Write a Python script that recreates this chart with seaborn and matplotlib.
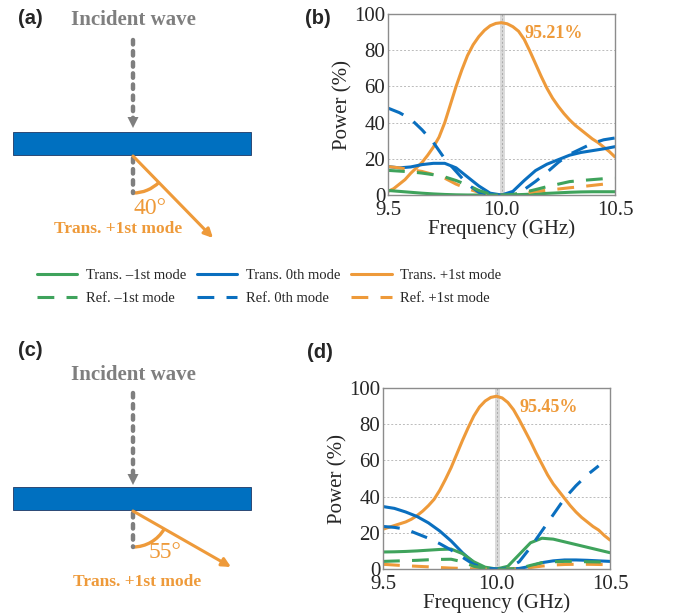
import numpy as np
import pandas as pd
import matplotlib.pyplot as plt
import seaborn as sns
from matplotlib.patches import Arc, Rectangle

##------------------------------ datos ------------------------------
freq = [9.50, 9.55, 9.60, 9.65, 9.70, 9.75, 9.80, 9.85, 9.90, 9.95, 10.00,
        10.05, 10.10, 10.15, 10.20, 10.25, 10.30, 10.35, 10.40, 10.45, 10.50]
# rejilla mas fina para el pico naranja
freq_fine = [9.500, 9.525, 9.550, 9.575, 9.600, 9.625, 9.650, 9.675, 9.700, 9.725,
             9.750, 9.775, 9.800, 9.825, 9.850, 9.875, 9.900, 9.925, 9.950, 9.975,
             10.000, 10.025, 10.050, 10.075, 10.100, 10.125, 10.150, 10.175, 10.200,
             10.225, 10.250, 10.275, 10.300, 10.325, 10.350, 10.375, 10.400, 10.425,
             10.450, 10.475, 10.500]

# panel (b), 40 grados
b_trans_m1 = [2.5, 2.0, 1.5, 1.0, 0.6, 0.3, 0.1, 0.0, 0.0, 0.0, 0.0,
              0.1, 0.3, 0.6, 0.9, 1.2, 1.5, 1.7, 1.8, 1.8, 1.8]
b_trans_0 = [15.7, 15.0, 15.5, 16.8, 17.5, 17.5, 15.0, 10.0, 5.0, 1.0, 0.0,
             2.0, 8.0, 13.5, 17.0, 19.5, 22.0, 23.5, 24.5, 25.5, 26.7]
b_trans_p1 = [2.0, 3.5, 6.0, 8.5, 12.0, 15.0, 18.0, 22.0, 26.5, 32.0,
              40.0, 50.0, 60.0, 69.0, 77.0, 83.0, 87.5, 91.0, 93.5, 94.8,
              95.21, 94.6, 93.0, 90.5, 86.0, 79.5, 72.5, 65.5, 59.0,
              53.5, 49.0, 45.0, 41.5, 38.5, 36.0, 33.5, 31.0, 29.0,
              26.5, 24.0, 21.0]
b_ref_m1 = [13.6, 13.2, 12.8, 12.1, 11.2, 10.0, 8.0, 5.5, 2.5, 0.5, 0.0,
            0.3, 1.5, 3.0, 4.6, 6.0, 7.4, 8.0, 8.5, 9.0, 9.2]
b_ref_0 = [48.0, 45.5, 42.0, 36.0, 29.0, 20.0, 13.0, 6.0, 1.5, 0.3, 0.0,
           0.5, 3.0, 7.5, 12.5, 18.0, 22.5, 25.5, 28.5, 30.5, 31.5]
b_ref_p1 = [15.7, 15.0, 14.0, 13.0, 11.3, 9.3, 6.0, 3.5, 1.5, 0.3, 0.0,
            0.2, 1.0, 2.0, 2.6, 3.3, 4.0, 4.6, 5.3, 6.0, 6.8]

# panel (d), 55 grados
d_trans_m1 = [9.4, 9.5, 9.7, 10.0, 10.4, 10.8, 11.0, 8.5, 4.0, 1.0, 0.0,
              1.5, 8.0, 14.5, 17.0, 16.5, 15.0, 13.5, 12.0, 10.5, 9.0]
d_trans_0 = [34.5, 33.5, 31.5, 29.0, 25.5, 21.0, 15.5, 9.0, 3.5, 0.5, 0.0,
             0.0, 0.3, 1.5, 3.5, 4.5, 5.0, 5.0, 4.8, 4.5, 4.2]
d_trans_p1 = [22.0, 23.0, 24.0, 25.0, 26.0, 27.5, 29.5, 32.0, 35.0, 38.5,
              43.5, 49.5, 56.0, 63.5, 71.0, 78.0, 84.5, 89.5, 92.8, 94.8,
              95.45, 94.5, 92.0, 88.0, 82.5, 76.5, 70.5, 64.0, 58.0,
              52.0, 47.0, 43.0, 39.0, 35.0, 31.5, 28.5, 26.0, 23.5,
              21.5, 18.5, 16.0]
d_ref_m1 = [4.2, 4.4, 4.6, 4.8, 5.1, 5.3, 5.4, 4.0, 1.5, 0.3, 0.0,
            0.0, 0.3, 2.0, 3.5, 4.0, 4.2, 4.2, 4.0, 3.9, 3.7]
d_ref_0 = [23.5, 23.0, 22.0, 19.5, 17.0, 14.0, 10.5, 6.5, 2.5, 0.5, 0.0,
           0.5, 4.0, 12.0, 21.0, 30.0, 39.0, 46.0, 52.0, 57.0, np.nan]
d_ref_p1 = [2.6, 2.2, 1.8, 1.5, 1.2, 0.8, 0.5, 0.3, 0.1, 0.0, 0.0,
            0.0, 0.2, 0.8, 1.6, 2.2, 2.5, 2.6, 2.6, 2.5, 2.4]

peak_b = "95.21%"
peak_d = "95.45%"
angle_labels = ["40°", "55°"]

##------------------------------ estilo ------------------------------
sns.set_style("white")
plt.rcParams['font.family'] = ['Liberation Serif', 'DejaVu Serif']

GREEN = '#3FA35C'
BLUE = '#0A6FBF'
ORANGE = '#EE9A3A'
GREY = '#7F7F7F'
DASH = (0, (5.5, 4))

fig = plt.figure(figsize=(6.78, 6.16), dpi=100)

##------------------------------ esquemas (a) y (c) ------------------------------
ax_s = fig.add_axes([0, 0, 1, 1])
ax_s.set_xlim(0, 678)
ax_s.set_ylim(616, 0)
ax_s.axis('off')


def esquema(ax, y_text, y_top, y_tip, y_rect, y_end, tip, ang_deg, ang_pos, lab_pos, ang_txt):
    x0 = 133
    ax.text(x0, y_text, "Incident wave", color=GREY, fontsize=15, fontweight='bold',
            ha='center', va='center')
    ax.plot([x0, x0], [y_top, y_tip - 9], color=GREY, lw=3.2,
            linestyle=(0, (1.0, 1.5)), dash_capstyle='round')
    ax.fill([x0 - 5.5, x0 + 5.5, x0], [y_tip - 11, y_tip - 11, y_tip], color=GREY, lw=0)
    ax.add_patch(Rectangle((13, y_rect), 238, 23, facecolor='#0070C0',
                           edgecolor='#1F3864', lw=0.6))
    y0 = y_rect + 24
    ax.plot([x0, x0], [y0 + 2, y_end], color=GREY, lw=3.2,
            linestyle=(0, (1.0, 1.5)), dash_capstyle='round')
    ax.annotate('', xy=tip, xytext=(x0, y0),
                arrowprops=dict(arrowstyle='-|>', color=ORANGE, lw=2.2,
                                mutation_scale=13, shrinkA=0, shrinkB=0))
    r = y_end - y0
    ax.add_patch(Arc((x0, y0), 2 * r, 2 * r, theta1=90 - ang_deg, theta2=90,
                     color=ORANGE, lw=2.4))
    ax.text(ang_pos[0], ang_pos[1], ang_txt, color=ORANGE, fontsize=17,
            ha='center', va='center')
    ax.text(lab_pos[0], lab_pos[1], "Trans. +1st mode", color=ORANGE, fontsize=12.5,
            fontweight='bold', ha='center', va='center')


esquema(ax_s, 20, 40, 128, 132, 193, (213, 238), 45, (150, 208), (118, 229), angle_labels[0])
esquema(ax_s, 375, 393, 485, 487, 547, (231, 567), 60, (165, 552), (137, 582), angle_labels[1])

for lab, (x, y) in zip(["(a)", "(b)", "(c)", "(d)"],
                       [(30, 18), (318, 18), (30, 350), (320, 352)]):
    fig.text(x / 678, 1 - y / 616, lab, fontsize=14.5, fontweight='bold',
             family=['Liberation Sans', 'DejaVu Sans'], ha='center', va='center')

##------------------------------ curvas (b) y (d) ------------------------------
series_names = ["Trans. \u20131st mode", "Ref. \u20131st mode",
                "Trans. 0th mode", "Ref. 0th mode",
                "Trans. +1st mode", "Ref. +1st mode"]
colors = [GREEN, GREEN, BLUE, BLUE, ORANGE, ORANGE]
styles = ['-', DASH, '-', DASH, '-', DASH]
order = [4, 2, 0, 5, 3, 1]  # orden de dibujo (naranja solido atras)


def panel(rect, data, peak):
    ax = fig.add_axes(rect)
    ax.axvline(10.0, color='#D9D9D9', lw=3.5, zorder=0)
    ax.axvline(10.0, color='#AAAAAA', lw=0.7, ls=(0, (2, 2)), zorder=0)
    for yv in [20, 40, 60, 80]:
        ax.axhline(yv, color='#BBBBBB', lw=0.7, ls=(0, (2, 2)), zorder=0)
    for i in order:
        xs = freq_fine if len(data[i]) == len(freq_fine) else freq
        df = pd.DataFrame({'freq': xs, 'power': data[i]}).dropna()
        sns.lineplot(data=df, x='freq', y='power', ax=ax, color=colors[i],
                     linestyle=styles[i], lw=2.2, label=series_names[i])
    ax.text(10.1, 89.5, peak, color=ORANGE, fontsize=13, fontweight='bold',
            ha='left', va='center')
    ax.set_xlim(9.5, 10.5)
    ax.set_ylim(0, 100)
    ax.set_xticks([9.5, 10.0, 10.5])
    ax.set_xticklabels(["9.5", "10.0", "10.5"])
    ax.set_yticks([0, 20, 40, 60, 80, 100])
    ax.tick_params(labelsize=15, length=0)
    ax.tick_params(axis='x', pad=4)
    ax.tick_params(axis='y', pad=2)
    ax.set_xlabel("Frequency (GHz)", fontsize=15, labelpad=0)
    ax.set_ylabel("Power (%)", fontsize=15, labelpad=1)
    for sp in ax.spines.values():
        sp.set_color('#8C8C8C')
        sp.set_linewidth(1.0)
    ax.get_legend().remove()
    return ax


ax_b = panel([388 / 678, 1 - 195 / 616, 227 / 678, 181 / 616],
             [b_trans_m1, b_ref_m1, b_trans_0, b_ref_0, b_trans_p1, b_ref_p1], peak_b)
ax_d = panel([383 / 678, 1 - 569 / 616, 227 / 678, 181 / 616],
             [d_trans_m1, d_ref_m1, d_trans_0, d_ref_0, d_trans_p1, d_ref_p1], peak_d)

handles, labels = ax_b.get_legend_handles_labels()
h_map = dict(zip(labels, handles))
fig.legend([h_map[n] for n in series_names], series_names, ncol=3,
           loc='center', bbox_to_anchor=(269 / 678, 1 - 287 / 616),
           frameon=False, fontsize=10.5, handlelength=2.8, handletextpad=0.6,
           columnspacing=0.7, labelspacing=0.7)

fig.savefig("out.png", dpi=100)
